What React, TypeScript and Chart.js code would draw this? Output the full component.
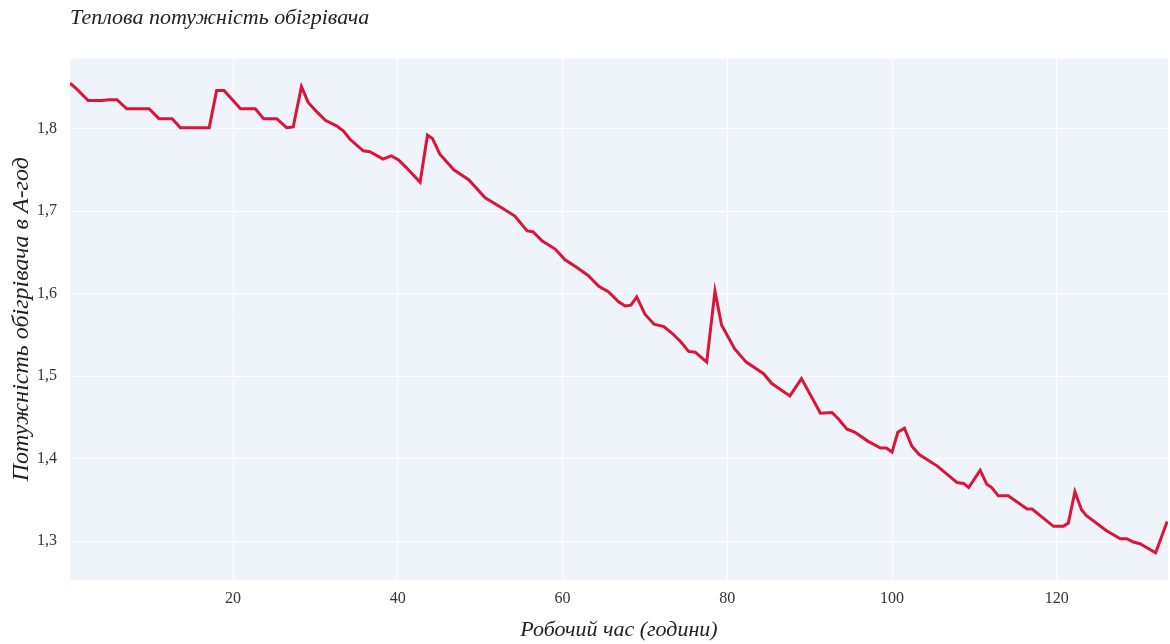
import React, { useEffect, useRef } from "react";
import { Chart, registerables } from "chart.js";

Chart.register(...registerables);

const chartTitle = "Теплова потужність обігрівача";
const xTitle = "Робочий час (години)";
const yTitle = "Потужність обігрівача в А-год";

const hours = [
  0.2, 1.0, 2.4, 4.0, 5.0, 5.9, 7.1, 9.8, 11.0, 12.6, 13.6, 17.1, 18.0, 18.9, 20.9, 22.7,
  23.7, 25.3, 26.5, 27.3, 28.3, 29.1, 30.0, 31.2, 32.6, 33.4, 34.2, 35.8, 36.6, 38.2, 39.2,
  40.1, 41.0, 42.7, 43.6, 44.2, 45.1, 46.8, 48.6, 50.6, 52.6, 54.2, 55.7, 56.4, 57.5, 59.1,
  60.3, 61.7, 63.1, 64.4, 65.6, 66.8, 67.6, 68.3, 69.0, 70.0, 71.1, 72.3, 73.4, 74.4, 75.3,
  76.1, 77.5, 78.5, 79.3, 80.9, 82.3, 84.4, 85.4, 87.6, 89.0, 90.5, 91.3, 92.7, 93.5, 94.5,
  95.5, 97.1, 98.6, 99.3, 100.0, 100.7, 101.5, 102.4, 103.3, 105.5, 107.9, 108.7, 109.3,
  110.7, 111.5, 112.1, 112.9, 114.1, 116.4, 117.0, 119.6, 120.8, 121.4, 122.2, 123.0, 123.6,
  126.0, 127.7, 128.5, 129.3, 130.1, 132.0, 133.4,
];

const power = [
  1.855, 1.848, 1.834, 1.834, 1.835, 1.835, 1.824, 1.824, 1.812, 1.812, 1.801, 1.801, 1.846,
  1.846, 1.824, 1.824, 1.812, 1.812, 1.801, 1.802, 1.851, 1.832, 1.822, 1.81, 1.803, 1.797,
  1.787, 1.773, 1.772, 1.763, 1.767, 1.762, 1.753, 1.735, 1.792, 1.788, 1.769, 1.75, 1.738,
  1.716, 1.704, 1.694, 1.676, 1.675, 1.664, 1.654, 1.641, 1.632, 1.622, 1.609, 1.602, 1.59,
  1.585, 1.586, 1.596, 1.575, 1.563, 1.56, 1.551, 1.541, 1.53, 1.529, 1.517, 1.603, 1.562,
  1.533, 1.517, 1.503, 1.491, 1.476, 1.497, 1.47, 1.455, 1.456, 1.448, 1.436, 1.432, 1.421,
  1.413, 1.413, 1.408, 1.432, 1.437, 1.415, 1.405, 1.391, 1.371, 1.37, 1.365, 1.386, 1.369,
  1.365, 1.355, 1.355, 1.339, 1.339, 1.318, 1.318, 1.322, 1.36, 1.338, 1.331, 1.313, 1.303,
  1.303, 1.299, 1.297, 1.286, 1.324,
];

const xTickValues = [20, 40, 60, 80, 100, 120];
const yTickValues = [1.3, 1.4, 1.5, 1.6, 1.7, 1.8];

const plotBg = {
  id: "plotBg",
  beforeDraw(chart: any) {
    const { ctx, chartArea } = chart;
    ctx.save();
    ctx.fillStyle = "#eff4fb";
    ctx.fillRect(chartArea.left, chartArea.top, chartArea.right - chartArea.left, chartArea.bottom - chartArea.top);
    ctx.restore();
  },
};

export default function App() {
  const ref = useRef<HTMLCanvasElement | null>(null);

  useEffect(() => {
    if (!ref.current) return;
    const serif = "'Liberation Serif', 'DejaVu Serif', serif";
    const chart = new Chart(ref.current, {
      type: "line",
      data: {
        datasets: [
          {
            data: hours.map((h, i) => ({ x: h, y: power[i] })),
            borderColor: "#dc143c",
            borderWidth: 3,
            pointRadius: 0,
            tension: 0,
            fill: false,
          },
        ],
      },
      options: {
        animation: false,
        responsive: false,
        devicePixelRatio: 1,
        layout: { padding: { top: 0, right: 2, left: 0, bottom: 0 } },
        plugins: {
          legend: { display: false },
          tooltip: { enabled: false },
          title: {
            display: true,
            text: chartTitle,
            align: "start",
            fullSize: false,
            color: "#222",
            font: { family: serif, size: 22, style: "italic", weight: "normal" },
            padding: { top: 5, bottom: 27 },
          },
        },
        scales: {
          x: {
            type: "linear",
            min: 0.2,
            max: 133.5,
            afterFit: (s: any) => {
              s.height = 64;
            },
            afterBuildTicks: (s: any) => {
              s.ticks = xTickValues.map((v) => ({ value: v }));
            },
            ticks: {
              includeBounds: false,
              color: "#333",
              padding: 9,
              maxRotation: 0,
              font: { family: serif, size: 16 },
              callback: (v: any) => String(v),
            },
            grid: { color: "rgba(255,255,255,0.95)", lineWidth: 1, drawTicks: false },
            border: { display: false },
            title: {
              display: true,
              text: xTitle,
              color: "#222",
              font: { family: serif, size: 22, style: "italic" },
              padding: { top: 0, bottom: 1 },
            },
          },
          y: {
            type: "linear",
            min: 1.253,
            max: 1.885,
            afterFit: (s: any) => {
              s.width = 70;
            },
            afterBuildTicks: (s: any) => {
              s.ticks = yTickValues.map((v) => ({ value: v }));
            },
            ticks: {
              color: "#333",
              padding: 13,
              font: { family: serif, size: 16 },
              callback: (v: any) => Number(v).toFixed(1).replace(".", ","),
            },
            grid: { color: "rgba(255,255,255,0.95)", lineWidth: 1, drawTicks: false },
            border: { display: false },
            title: {
              display: true,
              text: yTitle,
              color: "#222",
              font: { family: serif, size: 24, style: "italic" },
              padding: { top: 7, bottom: 0 },
            },
          },
        },
      },
      plugins: [plotBg],
    } as any);
    return () => chart.destroy();
  }, []);

  return (
    <div style={{ position: "fixed", left: 0, top: 0, width: 1170, height: 644, background: "#fff" }}>
      <canvas ref={ref} width={1170} height={644} />
    </div>
  );
}
